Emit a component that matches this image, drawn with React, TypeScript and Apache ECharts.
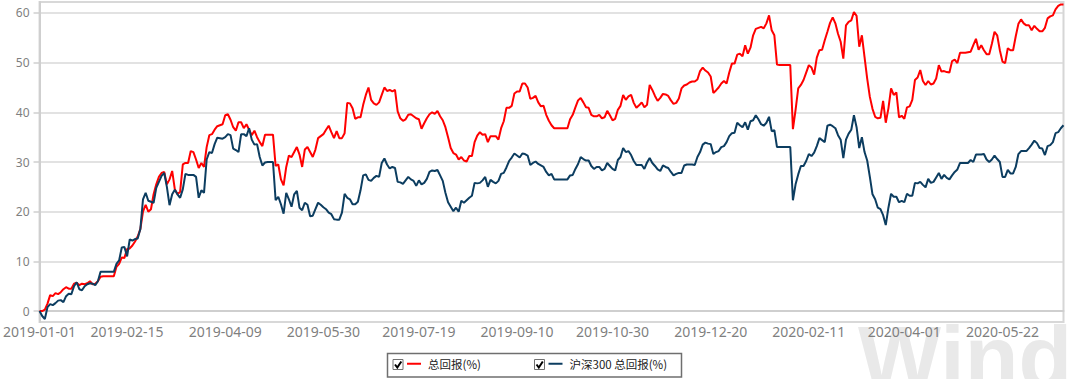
import React, { useEffect, useRef } from "react";
import * as echarts from "echarts";

const tickLabels = [
  "2019-01-01", "2019-02-15", "2019-04-09", "2019-05-30", "2019-07-19", "2019-09-10",
  "2019-10-30", "2019-12-20", "2020-02-11", "2020-04-01", "2020-05-22",
];

const seriesNames = ["总回报(%)", "沪深300 总回报(%)"];

const totalReturn = [
  0, 0, 0.3, 1.5, 3.2, 3.0, 3.6, 3.4, 3.8, 4.4,
  4.8, 4.5, 4.5, 5.5, 5.7, 5.2, 5.5, 5.4, 5.6, 6.0,
  5.4, 5.5, 6.0, 6.9, 7.0, 7.0, 7.0, 7.0, 7.0, 8.9,
  9.5, 10.8, 10.7, 12.5, 12.6, 13.2, 14.0, 15.0, 16.5, 20.0,
  21.4, 20.0, 20.5, 23.5, 25.5, 27.0, 27.8, 28.0, 25.5, 26.5,
  28.2, 24.5, 23.5, 24.0, 29.5, 29.8, 29.8, 32.2, 32.0, 30.5,
  28.8, 29.8, 29.0, 33.0, 35.4, 35.6, 36.5, 37.2, 37.4, 37.6,
  39.4, 39.6, 38.5, 37.0, 36.3, 38.0, 38.0, 36.8, 37.6, 36.5,
  35.4, 36.3, 35.0, 34.0, 33.2, 35.5, 35.5, 35.5, 35.5, 29.2,
  29.5, 26.5, 25.3, 29.0, 31.3, 31.0, 32.0, 33.0, 31.5, 29.0,
  32.5, 33.0, 32.0, 31.0, 32.5, 34.8, 35.2, 35.6, 36.5, 37.3,
  36.0, 34.8, 36.2, 34.8, 34.8, 35.8, 41.9, 41.8, 40.8, 38.7,
  39.0, 39.0, 41.5, 43.5, 45.0, 42.5, 41.8, 41.5, 42.0, 43.5,
  45.0, 44.3, 44.5, 44.2, 44.5, 40.2, 38.8, 38.3, 38.6, 39.5,
  39.6, 39.2, 38.8, 38.6, 36.7, 37.8, 38.8, 39.6, 40.0, 39.7,
  40.3, 39.2, 38.4, 37.0, 35.0, 32.8, 31.8, 31.5, 30.5, 31.0,
  30.3, 30.1, 31.2, 31.2, 34.0, 35.3, 36.0, 35.5, 35.6, 34.0,
  35.2, 35.2, 35.2, 34.5, 36.8, 38.2, 40.9, 40.9, 41.3, 43.8,
  44.2, 44.2, 45.8, 45.8, 45.0, 42.7, 42.9, 43.3, 42.0, 41.2,
  41.3, 39.5, 38.3, 37.4, 36.8, 36.8, 36.8, 36.8, 36.8, 36.8,
  38.6, 39.5, 41.0, 42.4, 42.9, 42.0, 41.0, 40.9, 39.5, 39.2,
  39.2, 39.5, 38.8, 39.0, 40.3, 39.4, 38.4, 38.7, 40.5, 41.3,
  43.5, 42.5, 43.2, 43.5, 41.9, 40.9, 41.4, 42.0, 41.0, 41.5,
  45.5, 44.5, 43.3, 42.3, 42.9, 43.7, 43.6, 43.3, 42.4, 41.7,
  41.9, 42.8, 44.8, 45.4, 45.6, 46.0, 46.2, 46.2, 46.6, 48.3,
  49.0, 48.4, 48.0, 47.2, 43.9, 44.4, 45.0, 45.8, 46.3, 45.8,
  48.0, 49.8, 49.8, 51.6, 51.8, 51.3, 53.5, 51.8, 53.0, 55.5,
  56.8, 57.0, 57.2, 56.9, 57.9, 59.5, 56.5, 55.5, 49.6, 49.5,
  49.5, 49.5, 49.5, 49.5, 36.6, 40.5, 44.8, 45.5, 46.5, 48.0,
  49.5, 49.0, 47.6, 51.0, 52.5, 52.6, 54.5, 56.2, 58.0, 59.1,
  57.9, 55.8, 54.2, 50.8, 57.5, 58.2, 58.5, 60.2, 59.4, 53.2,
  55.5, 51.1, 46.8, 43.1, 40.7, 39.1, 38.8, 38.9, 42.3, 37.9,
  40.8, 44.8, 43.5, 44.0, 39.0, 39.3, 38.7, 41.0, 41.2, 42.5,
  46.5, 47.0, 48.5, 46.3, 45.5, 46.3, 45.6, 45.8, 46.8, 49.5,
  48.2, 48.3, 48.1, 48.0, 50.3, 50.6, 49.9, 52.0, 52.0, 52.0,
  52.1, 52.2, 53.5, 54.8, 52.6, 53.5, 52.5, 51.7, 51.7, 53.8,
  56.2, 55.5, 52.5, 50.2, 49.9, 52.9, 52.5, 52.5, 55.3, 57.8,
  58.7, 57.9, 57.5, 57.5, 56.5, 57.4, 56.8, 56.3, 56.3, 57.0,
  58.9, 59.3, 59.5, 60.7, 61.4, 61.7, 61.7,
];

const hs300Return = [
  0, -1.0, -1.6, 0.8, 1.4, 1.2, 1.6, 2.1, 2.2, 1.8,
  3.0, 3.5, 3.4, 5.0, 5.8, 4.4, 4.2, 5.0, 5.4, 5.6,
  5.5, 5.2, 6.0, 7.9, 7.9, 7.9, 7.9, 7.9, 7.9, 9.5,
  10.2, 12.8, 12.9, 11.0, 14.4, 14.2, 14.5, 14.6, 16.5, 22.5,
  23.8, 22.2, 22.0, 21.8, 24.8, 26.0, 27.2, 27.8, 25.0, 21.3,
  23.5, 24.4, 23.5, 22.8, 24.5, 27.6, 27.4, 27.4, 27.4, 27.0,
  22.8, 24.3, 23.8, 30.5, 32.0, 31.8, 33.6, 34.9, 34.8, 34.7,
  35.0, 35.6, 35.4, 32.7, 32.4, 32.0, 35.6, 35.6, 35.2, 36.8,
  34.5, 33.5, 33.6, 31.0, 29.3, 29.9, 30.0, 30.0, 30.0, 22.3,
  23.0, 21.5, 19.6, 23.8, 22.5, 21.0, 23.5, 24.2, 20.8, 20.3,
  21.8, 21.4, 19.1, 19.2, 20.5, 21.8, 21.4, 20.9, 20.5, 19.8,
  19.5, 18.5, 18.4, 18.4, 19.8, 23.6, 22.8, 22.5, 21.5, 21.5,
  22.0, 24.3, 27.3, 27.5, 26.4, 26.2, 26.8, 27.2, 27.0, 29.8,
  30.7, 29.5, 28.7, 29.0, 28.8, 26.0, 25.9, 25.6, 26.3, 27.0,
  26.5, 26.2, 25.2, 26.3, 25.5, 25.8, 26.6, 28.0, 28.3, 28.2,
  28.4, 27.3, 26.2, 23.8, 21.9, 21.0, 20.1, 20.8, 20.0, 22.2,
  21.8, 22.3, 22.8, 23.2, 25.8, 25.7, 25.8, 26.3, 27.0, 25.0,
  26.4, 26.0, 25.7, 26.2, 27.6, 27.8, 28.9, 30.2, 30.9, 31.7,
  31.3, 30.9, 31.7, 31.6, 31.3, 29.4, 29.8, 30.1, 29.6, 29.3,
  29.0, 28.0, 27.3, 27.6, 26.5, 26.5, 26.5, 26.5, 26.5, 26.5,
  27.3, 27.4, 28.6, 29.6, 31.0, 30.6, 30.3, 30.3, 29.2, 28.6,
  29.0, 29.0, 28.3, 28.6, 29.8, 29.2, 28.6, 28.3, 30.4, 31.0,
  32.8, 32.0, 32.2, 31.4, 30.2, 29.4, 29.4, 29.4, 28.6, 29.9,
  30.8, 29.8, 29.2, 28.5, 28.2, 29.3, 29.0, 28.8, 28.0, 27.3,
  27.6, 27.8, 27.8, 29.3, 29.5, 29.5, 29.5, 29.4, 31.0, 32.0,
  33.5, 33.9, 33.7, 33.6, 31.6, 32.0, 32.2, 33.0, 33.2, 34.0,
  35.2, 35.8, 35.9, 37.9, 37.4, 37.0, 38.0, 36.5, 38.2, 38.4,
  39.4, 38.6, 37.6, 37.3, 37.9, 39.1, 36.2, 36.4, 33.0, 33.0,
  33.0, 33.0, 33.0, 33.0, 22.3, 25.5, 27.5, 29.2, 29.2, 30.2,
  31.6, 31.2, 31.9, 33.2, 34.8, 34.4, 34.0, 37.3, 37.5, 37.2,
  36.8, 35.4, 34.5, 30.8, 34.5, 35.7, 36.5, 39.4, 37.0, 32.8,
  35.0, 32.0, 30.3, 27.0, 23.5, 22.5, 20.8, 20.5, 19.3, 17.3,
  20.8, 23.6, 23.0, 23.0, 21.9, 22.2, 21.9, 23.6, 23.2, 23.2,
  25.8, 25.7, 26.0, 25.4, 24.9, 26.6, 25.8, 26.0, 26.9, 27.8,
  26.6, 27.4, 26.8, 26.5, 27.3, 28.0, 28.5, 29.8, 29.8, 29.8,
  29.8, 30.4, 30.0, 31.5, 31.5, 31.5, 31.6, 30.5, 30.0, 30.5,
  31.3, 30.6, 30.0, 27.0, 27.0, 28.4, 27.7, 27.7, 29.0, 31.6,
  32.2, 32.2, 32.2, 32.8, 33.5, 34.3, 33.8, 32.8, 32.7, 31.4,
  33.2, 33.4, 34.0, 35.8, 36.0, 36.8, 37.4,
];

// weekday calendar starting 2019-01-01 (one category per weekday)
function weekdays(start: string, count: number): string[] {
  const out: string[] = [];
  const d = new Date(start + "T00:00:00Z");
  while (out.length < count) {
    const wd = d.getUTCDay();
    if (wd !== 0 && wd !== 6) out.push(d.toISOString().slice(0, 10));
    d.setUTCDate(d.getUTCDate() + 1);
  }
  return out;
}

const categories = weekdays("2019-01-01", totalReturn.length);
const tickSet = new Set(tickLabels);

const RED = "#ff0000";
const NAVY = "#0c3d60";

export default function App() {
  const ref = useRef<HTMLDivElement>(null);
  useEffect(() => {
    document.body.style.margin = "0";
    if (!ref.current) return;
    const chart = echarts.init(ref.current, null, { renderer: "svg" });
    const checkbox = (x: number) => [
      {
        type: "rect",
        z: 20,
        shape: { x: x + 0.5, y: 359.5, width: 10, height: 10 },
        style: { fill: "#ffffff", stroke: "#707070", lineWidth: 1 },
      },
      {
        type: "polyline",
        z: 21,
        shape: { points: [[x + 2.5, x ? 364.5 : 364.5], [x + 4.8, 367.5], [x + 8.8, 361.5]] },
        style: { stroke: "#000000", lineWidth: 2, fill: "none" },
      },
    ];
    chart.setOption({
      animation: false,
      backgroundColor: "#ffffff",
      grid: {
        left: 37.5,
        right: 3.5,
        top: 2,
        bottom: 57,
        show: true,
        borderColor: "#d6d6d6",
        borderWidth: 2,
        containLabel: false,
      },
      legend: [
        {
          data: [seriesNames[0]],
          left: 407,
          top: 358,
          padding: 0,
          icon: "rect",
          itemWidth: 14,
          itemHeight: 2,
          selectedMode: false,
          textStyle: { fontSize: 11.5, color: "#1a1a1a", fontFamily: "Noto Sans CJK SC", padding: [0, 0, 0, 2] },
        },
        {
          data: [seriesNames[1]],
          left: 548.5,
          top: 358,
          padding: 0,
          icon: "rect",
          itemWidth: 14,
          itemHeight: 2,
          selectedMode: false,
          textStyle: { fontSize: 11.5, color: "#1a1a1a", fontFamily: "Noto Sans CJK SC", padding: [0, 0, 0, 2] },
        },
      ],
      xAxis: {
        type: "category",
        data: categories,
        boundaryGap: false,
        axisLine: { lineStyle: { color: "#cfcfcf", width: 2 } },
        axisTick: { show: false },
        splitLine: { show: false },
        axisLabel: {
          interval: (_i: number, v: string) => tickSet.has(v),
          color: "#7f7f7f",
          fontSize: 14,
          fontFamily: "Noto Sans",
          margin: 2,
        },
      },
      yAxis: {
        type: "value",
        min: -2.2,
        max: 62.2,
        splitNumber: 6,
        axisLine: { show: true, lineStyle: { color: "#cfcfcf", width: 2 } },
        axisTick: { show: true, length: 6, lineStyle: { color: "#cfcfcf", width: 1.5 } },
        splitLine: { lineStyle: { color: "#d9d9d9", width: 1.5 } },
        axisLabel: {
          showMinLabel: false,
          showMaxLabel: false,
          color: "#7f7f7f",
          fontSize: 12,
          fontFamily: "Noto Sans",
          margin: 10,
        },
      },
      series: [
        {
          name: seriesNames[0],
          type: "line",
          data: totalReturn,
          showSymbol: false,
          symbol: "none",
          lineStyle: { color: RED, width: 2 },
          itemStyle: { color: RED },
        },
        {
          name: seriesNames[1],
          type: "line",
          data: hs300Return,
          showSymbol: false,
          symbol: "none",
          lineStyle: { color: NAVY, width: 2 },
          itemStyle: { color: NAVY },
        },
      ],
      graphic: [
        {
          type: "text",
          z: -5,
          silent: true,
          style: {
            text: "Wind",
            x: 858,
            y: 312,
            verticalAlign: "top",
            fontSize: 88,
            fontWeight: "bold",
            fontFamily: "Liberation Sans Narrow, Liberation Sans, sans-serif",
            fill: "#e9e9e9",
          },
        },
        {
          type: "rect",
          z: 1,
          shape: { x: 387.5, y: 353.5, width: 294, height: 23.5 },
          style: { fill: "#ffffff", stroke: "#6f6f6f", lineWidth: 1.5 },
        },
        ...checkbox(392.5),
        ...checkbox(534),
      ],
    });
    return () => chart.dispose();
  }, []);
  return <div ref={ref} style={{ width: 1067, height: 379 }} />;
}
